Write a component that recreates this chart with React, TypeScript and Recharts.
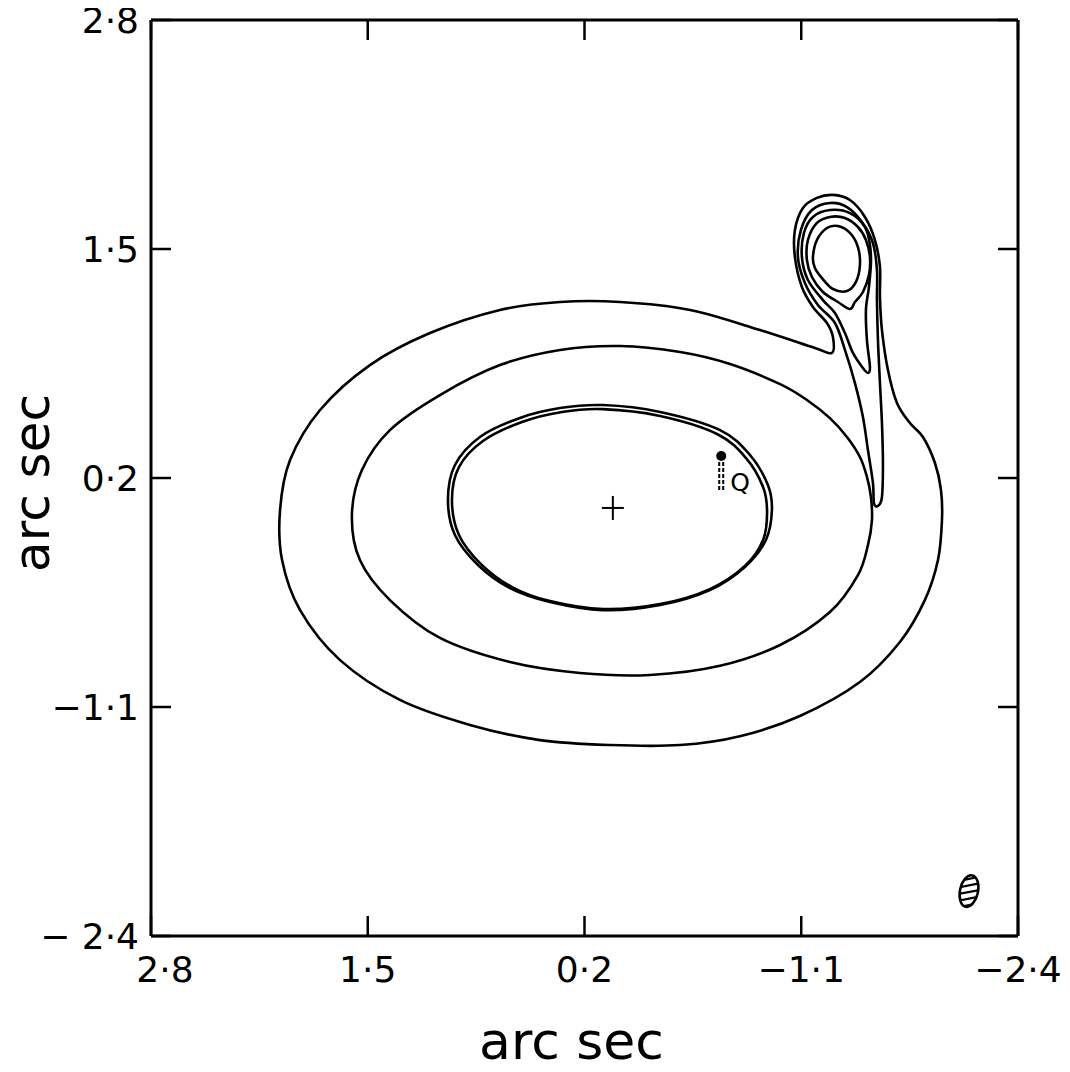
import React from 'react';
import { ComposedChart, Line, Scatter, XAxis, YAxis, ReferenceLine } from 'recharts';

// axis ticks (arc sec)
const xTicks = [2.8, 1.5, 0.2, -1.1, -2.4];
const yTicks = [2.8, 1.5, 0.2, -1.1, -2.4];

// contour levels, [x, y] in arc sec
const outerContour: [number, number][] = [
  [-1.284, 0.91], [-1.29, 1.0], [-1.254, 1.08], [-1.17, 1.171], [-1.104, 1.284], [-1.062, 1.454],
  [-1.062, 1.608], [-1.11, 1.733], [-1.194, 1.79], [-1.29, 1.807], [-1.392, 1.778], [-1.482, 1.682],
  [-1.542, 1.551], [-1.572, 1.398], [-1.572, 1.227], [-1.584, 1.04], [-1.62, 0.813], [-1.674, 0.626],
  [-1.752, 0.512], [-1.83, 0.433], [-1.902, 0.285], [-1.938, 0.132], [-1.944, -0.039], [-1.92, -0.266],
  [-1.842, -0.492], [-1.692, -0.731], [-1.452, -0.958], [-1.092, -1.151], [-0.732, -1.266], [-0.373, -1.316],
  [0.047, -1.316], [0.467, -1.288], [0.887, -1.202], [1.307, -1.06], [1.666, -0.834], [1.906, -0.55],
  [2.014, -0.266], [2.026, 0.018], [1.966, 0.302], [1.786, 0.586], [1.487, 0.841], [1.127, 1.023],
  [0.707, 1.154], [0.347, 1.199], [-0.013, 1.199], [-0.433, 1.154], [-0.853, 1.04], [-1.182, 0.938],
];

const middleContour: [number, number][] = [
  [-0.973, 0.733], [-1.134, 0.643], [-1.272, 0.54], [-1.374, 0.433], [-1.452, 0.319], [-1.494, 0.206],
  [-1.518, 0.092], [-1.524, -0.039], [-1.5, -0.181], [-1.44, -0.351], [-1.272, -0.561], [-0.973, -0.748],
  [-0.613, -0.866], [-0.193, -0.918], [0.227, -0.907], [0.647, -0.845], [1.067, -0.708], [1.367, -0.493],
  [1.547, -0.266], [1.595, -0.01], [1.535, 0.245], [1.367, 0.472], [1.067, 0.671], [0.707, 0.841],
  [0.347, 0.927], [-0.013, 0.949], [-0.373, 0.915], [-0.673, 0.847],
];

const tailContour: [number, number][] = [
  [-1.272, 1.761], [-1.164, 1.721], [-1.098, 1.608], [-1.08, 1.454], [-1.122, 1.307], [-1.2, 1.182],
  [-1.302, 1.08], [-1.362, 0.927], [-1.422, 0.739], [-1.47, 0.546], [-1.5, 0.359], [-1.53, 0.172],
  [-1.536, 0.058], [-1.56, 0.041], [-1.584, 0.092], [-1.59, 0.285], [-1.584, 0.512], [-1.572, 0.739],
  [-1.56, 0.983], [-1.554, 1.21], [-1.554, 1.381], [-1.53, 1.534], [-1.464, 1.653], [-1.374, 1.738],
];

const knotContour3: [number, number][] = [
  [-1.272, 1.721], [-1.17, 1.682], [-1.116, 1.591], [-1.104, 1.454], [-1.14, 1.324], [-1.23, 1.21],
  [-1.302, 1.137], [-1.362, 1.023], [-1.41, 0.91], [-1.47, 0.824], [-1.5, 0.796], [-1.512, 0.83],
  [-1.494, 0.983], [-1.488, 1.154], [-1.506, 1.284], [-1.518, 1.42], [-1.512, 1.523], [-1.482, 1.625],
  [-1.392, 1.704],
];

const knotContour4: [number, number][] = [
  [-1.272, 1.682], [-1.194, 1.648], [-1.14, 1.551], [-1.134, 1.437], [-1.164, 1.341], [-1.23, 1.256],
  [-1.32, 1.199], [-1.392, 1.159], [-1.422, 1.199], [-1.47, 1.256], [-1.506, 1.352], [-1.512, 1.454],
  [-1.488, 1.551], [-1.44, 1.625], [-1.362, 1.676],
];

const knotCore: [number, number][] = [
  [-1.17, 1.454], [-1.194, 1.551], [-1.254, 1.619], [-1.32, 1.63], [-1.392, 1.591], [-1.44, 1.511],
  [-1.452, 1.409], [-1.428, 1.313], [-1.374, 1.261], [-1.29, 1.273], [-1.224, 1.335], [-1.182, 1.392],
];

const innerContourA: [number, number][] = [
  [0.089, 0.614], [-0.253, 0.575], [-0.613, 0.472], [-0.793, 0.33], [-0.9, 0.16], [-0.924, 0.018],
  [-0.888, -0.152], [-0.762, -0.305], [-0.552, -0.436], [-0.253, -0.521], [0.089, -0.55], [0.407, -0.504],
  [0.647, -0.425], [0.839, -0.294], [0.977, -0.124], [1.019, 0.075], [0.977, 0.274], [0.827, 0.433],
  [0.587, 0.541], [0.347, 0.597],
];

const innerContourB: [number, number][] = [
  [0.089, 0.591], [-0.253, 0.552], [-0.595, 0.45], [-0.769, 0.313], [-0.871, 0.149], [-0.895, 0.007],
  [-0.871, -0.152], [-0.762, -0.3], [-0.552, -0.431], [-0.253, -0.516], [0.089, -0.544], [0.407, -0.499],
  [0.635, -0.419], [0.821, -0.289], [0.953, -0.124], [0.995, 0.075], [0.953, 0.262], [0.809, 0.41],
  [0.575, 0.518], [0.335, 0.575],
];

const centrePoint: [number, number][] = [[0.03, 0.03]];
const qPoint: [number, number][] = [[-0.62, 0.325]];
const qBar: [number, number][] = [[-0.62, 0.325], [-0.62, 0.13]];
const qLabel: [number, number][] = [[-0.733, 0.177]];
const beamPoint: [number, number][] = [[-2.106, -2.145]];

const toPts = (a: [number, number][]) => a.map(([x, y]) => ({ x, y }));

const contours = [
  outerContour, middleContour, tailContour, knotContour3, knotContour4,
  knotCore, innerContourA, innerContourB,
];

// chart box (the wrapper cancels the body margin so the svg covers the page)
const W = 1070;
const H = 1072;
const M = { top: 20, right: 52, bottom: 0, left: 0 };
const Y_AXIS_W = 151;
const X_AXIS_H = 136;
const PLOT_L = M.left + Y_AXIS_W;
const PLOT_R = W - M.right;
const PLOT_T = M.top;
const PLOT_B = H - M.bottom - X_AXIS_H;
const TICK = 20;

// smooth closed curve through the points (catmull-rom)
const closedSmooth = (context: any) => {
  let pts: [number, number][] = [];
  return {
    areaStart() {},
    areaEnd() {},
    lineStart() { pts = []; },
    point(x: number, y: number) { pts.push([x, y]); },
    lineEnd() {
      const n = pts.length;
      if (n < 3) return;
      context.moveTo(pts[0][0], pts[0][1]);
      for (let i = 0; i < n; i++) {
        const p0 = pts[(i - 1 + n) % n];
        const p1 = pts[i];
        const p2 = pts[(i + 1) % n];
        const p3 = pts[(i + 2) % n];
        context.bezierCurveTo(
          p1[0] + (p2[0] - p0[0]) / 6, p1[1] + (p2[1] - p0[1]) / 6,
          p2[0] - (p3[0] - p1[0]) / 6, p2[1] - (p3[1] - p1[1]) / 6,
          p2[0], p2[1],
        );
      }
      context.closePath();
    },
  };
};

const fmt = (v: number) => {
  const s = Math.abs(v).toFixed(1).replace('.', '·');
  return v < 0 ? '−' + s : s;
};
const fmtY = (v: number) => {
  const s = Math.abs(v).toFixed(1).replace('.', '·');
  return v < -2 ? '− ' + s : v < 0 ? '−' + s : s;
};

const FONT = '"DejaVu Sans", sans-serif';

// bottom tick: inward marks on bottom and top edges + label
const BottomTick = ({ x, payload, index }: any) => (
  <g>
    <line x1={x} y1={PLOT_B} x2={x} y2={PLOT_B - TICK} stroke="#000" strokeWidth={2.5} />
    <line x1={x} y1={PLOT_T} x2={x} y2={PLOT_T + TICK} stroke="#000" strokeWidth={2.5} />
    <text x={x + (index === 0 ? 14 : 0)} y={PLOT_B + 46} textAnchor="middle" fontFamily={FONT} fontSize={36} fill="#000">
      {fmt(payload.value)}
    </text>
  </g>
);

// left tick: inward marks on left and right edges + label
const LeftTick = ({ y, payload }: any) => (
  <g>
    <line x1={PLOT_L} y1={y} x2={PLOT_L + TICK} y2={y} stroke="#000" strokeWidth={2.5} />
    <line x1={PLOT_R} y1={y} x2={PLOT_R - TICK} y2={y} stroke="#000" strokeWidth={2.5} />
    <text x={PLOT_L - 12} y={y + 13} textAnchor="end" fontFamily={FONT} fontSize={36} fill="#000">
      {fmtY(payload.value)}
    </text>
  </g>
);

const Cross = ({ cx, cy }: any) => (
  <g stroke="#000" strokeWidth={2}>
    <line x1={cx - 11} y1={cy} x2={cx + 11} y2={cy} />
    <line x1={cx} y1={cy - 12} x2={cx} y2={cy + 12} />
  </g>
);

const QDot = ({ cx, cy }: any) => <circle cx={cx} cy={cy} r={5} fill="#000" />;

const QText = ({ cx, cy }: any) => (
  <text x={cx} y={cy + 9} textAnchor="middle" fontFamily={FONT} fontSize={25} fill="#000">
    Q
  </text>
);

const Beam = ({ cx, cy }: any) => (
  <g transform={`rotate(12 ${cx} ${cy})`}>
    <defs>
      <clipPath id="beamClip">
        <ellipse cx={cx} cy={cy} rx={9} ry={16} />
      </clipPath>
    </defs>
    <g clipPath="url(#beamClip)" stroke="#000" strokeWidth={2.2}>
      {[-20, -13, -6, 1, 8, 15, 22].map((d) => (
        <line key={d} x1={cx - 14} y1={cy + d + 6} x2={cx + 14} y2={cy + d - 6} />
      ))}
    </g>
    <ellipse cx={cx} cy={cy} rx={9} ry={16} fill="none" stroke="#000" strokeWidth={2.6} />
  </g>
);

export default function App() {
  return (
    <div style={{ margin: '-8px 0 0 -8px', width: W, height: H }}>
      <ComposedChart width={W} height={H} margin={M}>
        <XAxis
          xAxisId="bottom"
          type="number"
          dataKey="x"
          domain={[-2.4, 2.8]}
          reversed
          allowDataOverflow
          ticks={xTicks}
          interval={0}
          height={X_AXIS_H}
          tickLine={false}
          axisLine={{ stroke: '#000', strokeWidth: 3 }}
          tick={BottomTick}
          label={({ viewBox }: any) => (
            <text
              x={viewBox.x + viewBox.width / 2 - 13}
              y={viewBox.y + 123}
              textAnchor="middle"
              fontFamily={FONT}
              fontSize={52}
              fill="#000"
            >
              arc sec
            </text>
          )}
        />
        <YAxis
          yAxisId="left"
          type="number"
          dataKey="y"
          domain={[-2.4, 2.8]}
          allowDataOverflow
          ticks={yTicks}
          interval={0}
          width={Y_AXIS_W}
          tickLine={false}
          axisLine={{ stroke: '#000', strokeWidth: 3 }}
          tick={LeftTick}
          label={({ viewBox }: any) => {
            const x = viewBox.x + 49;
            const y = viewBox.y + viewBox.height / 2 + 5;
            return (
              <text
                x={x}
                y={y}
                transform={`rotate(-90 ${x} ${y})`}
                textAnchor="middle"
                fontFamily={FONT}
                fontSize={50}
                fill="#000"
              >
                arc sec
              </text>
            );
          }}
        />

        {/* top and right edges of the frame */}
        <ReferenceLine xAxisId="bottom" yAxisId="left" y={2.8} stroke="#000" strokeWidth={3} ifOverflow="visible" />
        <ReferenceLine xAxisId="bottom" yAxisId="left" x={-2.4} stroke="#000" strokeWidth={3} ifOverflow="visible" />

        {contours.map((c, i) => (
          <Line
            key={i}
            xAxisId="bottom"
            yAxisId="left"
            data={toPts(c)}
            dataKey="y"
            type={closedSmooth as any}
            stroke="#000"
            strokeWidth={2.6}
            dot={false}
            activeDot={false}
            isAnimationActive={false}
          />
        ))}

        {/* Q: double dashed bar under the dot */}
        <Line
          xAxisId="bottom"
          yAxisId="left"
          data={toPts(qBar)}
          dataKey="y"
          type="linear"
          stroke="#000"
          strokeWidth={6}
          strokeDasharray="4 2"
          dot={false}
          activeDot={false}
          isAnimationActive={false}
        />
        <Line
          xAxisId="bottom"
          yAxisId="left"
          data={toPts(qBar)}
          dataKey="y"
          type="linear"
          stroke="#fff"
          strokeWidth={2}
          dot={false}
          activeDot={false}
          isAnimationActive={false}
        />
        <Scatter xAxisId="bottom" yAxisId="left" data={toPts(qPoint)} dataKey="y" shape={QDot} isAnimationActive={false} />
        <Scatter xAxisId="bottom" yAxisId="left" data={toPts(qLabel)} dataKey="y" shape={QText} isAnimationActive={false} />
        <Scatter xAxisId="bottom" yAxisId="left" data={toPts(centrePoint)} dataKey="y" shape={Cross} isAnimationActive={false} />
        <Scatter xAxisId="bottom" yAxisId="left" data={toPts(beamPoint)} dataKey="y" shape={Beam} isAnimationActive={false} />
      </ComposedChart>
    </div>
  );
}
